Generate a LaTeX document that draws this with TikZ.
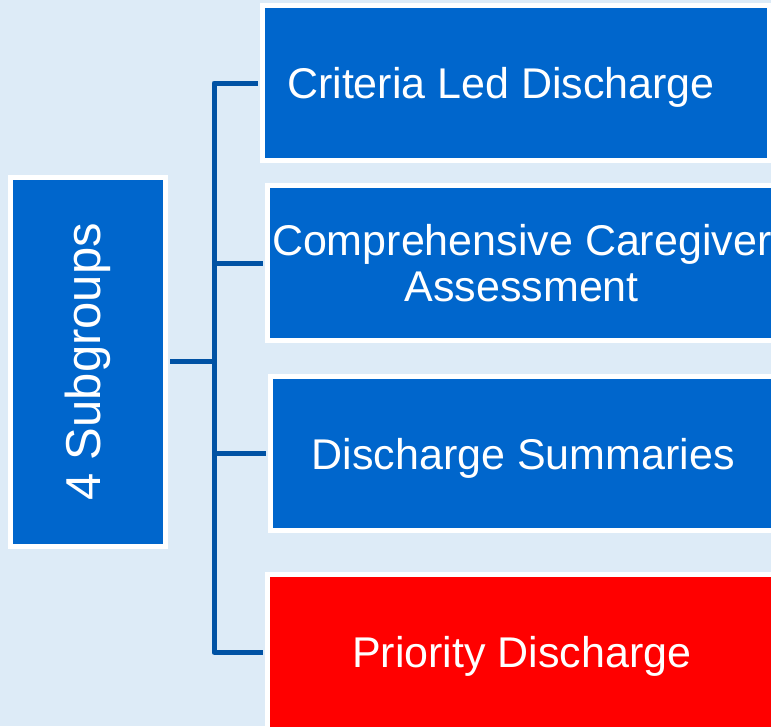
\documentclass[tikz,border=0pt]{standalone}
\usepackage{fontspec}
\setmainfont{Liberation Sans}
\usetikzlibrary{positioning, calc}
\definecolor{bgblue}{RGB}{221,235,247}
\definecolor{boxblue}{RGB}{0,102,204}
\definecolor{linkblue}{RGB}{0,82,164}

\begin{document}
\begin{tikzpicture}[
      x=1pt, y=-1pt,
      box/.style={rectangle, draw=white, line width=5pt, fill=boxblue, text=white, align=center, inner sep=0pt, text depth=0pt, minimum height=155pt, font=\fontsize{43}{46}\selectfont},
      link/.style={draw=linkblue, line width=5pt, line join=round, shorten <=2.5pt, shorten >=2.5pt}
    ]
      % Canvas
      \useasboundingbox (0,0) rectangle (771,726);
      \clip (0,0) rectangle (771,726);
      \fill[bgblue] (0,0) rectangle (771,726);

      % Nodes
      \node[box, minimum width=154.5pt, minimum height=369pt, font=\fontsize{49}{52}\selectfont] (groups) at (88,362) {\rotatebox{90}{4 Subgroups}};
      \node[box, minimum width=507pt] (crit) at (516,83) {Criteria Led Discharge\hspace*{30pt}};
      \node[box, minimum width=508.5pt] (care) at (521.75,263) {Comprehensive Caregiver\\Assessment};
      \node[box, minimum width=505.5pt, minimum height=154pt] (summ) at (523.25,453.5) {Discharge Summaries};
      \node[box, fill=red, minimum width=508.5pt, minimum height=155.5pt] (prio) at (521.75,652.25) {Priority Discharge};

      % Links
      \coordinate (trunk) at (214,361);
      \draw[link] (groups.east |- trunk) -- (trunk);
      \draw[link] (crit.west) -| (trunk) |- (prio.west);
      \draw[link] (trunk |- care.west) -- (care.west);
      \draw[link] (trunk |- summ.west) -- (summ.west);

    \end{tikzpicture}
\end{document}
